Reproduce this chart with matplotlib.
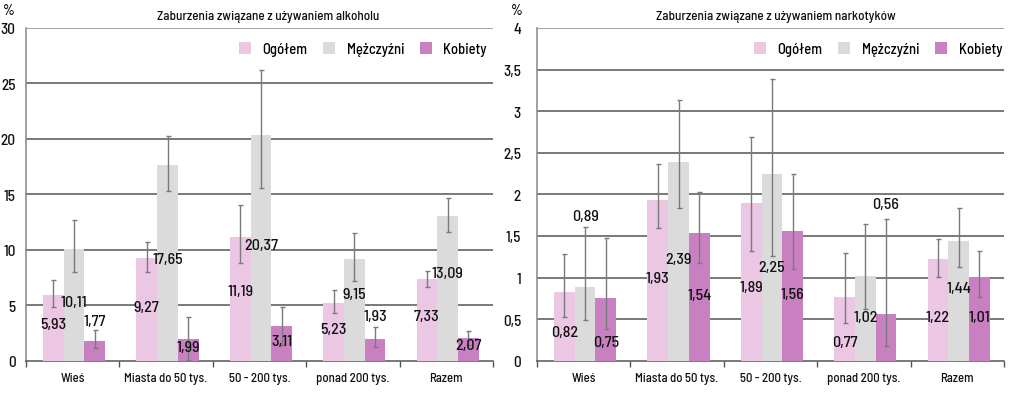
import matplotlib
matplotlib.use("Agg")
import matplotlib.pyplot as plt
import numpy as np
from matplotlib.ticker import FixedLocator

plt.rcParams['font.family'] = ['Barlow Semi Condensed', 'Barlow Condensed', 'Fira Sans Condensed', 'DejaVu Sans']
plt.rcParams['font.weight'] = 500

categories = ["Wieś", "Miasta do 50 tys.", "50 - 200 tys.", "ponad 200 tys.", "Razem"]
series_names = ["Ogółem", "Mężczyźni", "Kobiety"]
colors = ["#EBC7E3", "#DBDBDB", "#C980C0"]

# Alcohol
alc_ogolem = [5.93, 9.27, 11.19, 5.23, 7.33]
alc_mezczyzni = [10.11, 17.65, 20.37, 9.15, 13.09]
alc_kobiety = [1.77, 1.99, 3.11, 1.93, 2.07]
alc_ogolem_lo = [4.81, 7.97, 8.78, 4.27, 6.62]
alc_ogolem_hi = [7.31, 10.74, 14.08, 6.41, 8.12]
alc_mezczyzni_lo = [7.97, 15.34, 15.6, 7.22, 11.64]
alc_mezczyzni_hi = [12.72, 20.24, 26.2, 11.49, 14.65]
alc_kobiety_lo = [1.11, 0.05, 1.41, 1.26, 1.43]
alc_kobiety_hi = [2.80, 3.97, 4.81, 3.07, 2.71]

# Drugs
drg_ogolem = [0.82, 1.93, 1.89, 0.77, 1.22]
drg_mezczyzni = [0.89, 2.39, 2.25, 1.02, 1.44]
drg_kobiety = [0.75, 1.54, 1.56, 0.56, 1.01]
drg_ogolem_lo = [0.52, 1.59, 1.32, 0.45, 1.01]
drg_ogolem_hi = [1.28, 2.36, 2.69, 1.30, 1.46]
drg_mezczyzni_lo = [0.49, 1.83, 1.26, 0.62, 1.13]
drg_mezczyzni_hi = [1.61, 3.14, 3.39, 1.64, 1.83]
drg_kobiety_lo = [0.38, 1.17, 1.10, 0.18, 0.77]
drg_kobiety_hi = [1.47, 2.03, 2.24, 1.70, 1.32]

# label vertical placement (data units), per series
alc_label_y = [[3.3, 4.8, 6.3, 2.85, 4.05],
               [5.3, 9.2, 10.4, 6.0, 7.9],
               [3.6, 1.26, 1.8, 4.05, 1.4]]
drg_label_y = [[0.35, 0.99, 0.89, 0.23, 0.52],
               [1.74, 1.22, 1.13, 0.52, 0.88],
               [0.23, 0.79, 0.80, 1.88, 0.52]]

TXT = '#111111'
fig = plt.figure(figsize=(10.24, 4.10), dpi=100)
ax1 = fig.add_axes([26/1024, 1-361.7/410, 467/1024, 332.7/410])
ax2 = fig.add_axes([537/1024, 1-361.7/410, 467/1024, 332.7/410])


def fmt(v, dec=2):
    return f"{v:.{dec}f}".replace(".", ",")


def draw(ax, vals, los, his, label_y, ymax, ystep, title, title_x, ypad, leg_x):
    x = np.arange(len(categories))
    w = 0.222
    for i, (v, lo, hi, c, name) in enumerate(zip(vals, los, his, colors, series_names)):
        xi = x + (i - 1) * w + 0.015
        v = np.array(v)
        yerr = [v - np.array(lo), np.array(hi) - v]
        ax.bar(xi, v, w, color=c, label=name, zorder=3)
        ax.errorbar(xi, v, yerr=yerr, fmt='none', ecolor='#7a7a7a', elinewidth=1,
                    capsize=1.8, capthick=1, zorder=4)
        for xx, vv, yy in zip(xi, v, label_y[i]):
            ax.text(xx, yy, fmt(vv), ha='center', va='center', fontsize=11.5,
                    color=TXT, zorder=5)
    ax.set_xlim(-0.5, len(categories) - 0.5)
    ax.set_ylim(0, ymax)
    ticks = np.arange(0, ymax + ystep / 2, ystep)
    ax.set_yticks(ticks)
    ax.set_yticklabels([fmt(t, 1) if t % 1 else str(int(t)) for t in ticks])
    for t in ticks[1:]:
        ax.axhline(t, color='#555555' if t < ymax else '#888888', lw=1.1, zorder=1)
    ax.set_xticks(x)
    ax.set_xticklabels(categories)
    ax.xaxis.set_minor_locator(FixedLocator(np.arange(-0.5, len(categories), 1.0)))
    ax.tick_params(axis='x', which='major', length=0, pad=8, labelsize=9.2, colors=TXT)
    ax.tick_params(axis='x', which='minor', length=4, width=1, color='#555555', direction='out')
    ax.tick_params(axis='y', length=0, pad=ypad, labelsize=11, colors=TXT)
    for s in ['top', 'right']:
        ax.spines[s].set_visible(False)
    ax.spines['left'].set_color('#888888')
    ax.spines['left'].set_linewidth(1.1)
    ax.spines['bottom'].set_color('#555555')
    ax.spines['bottom'].set_linewidth(1.1)
    ax.text(title_x, 1 + 12/332.7, title, transform=ax.transAxes, ha='center',
            va='center', fontsize=9.5, color=TXT)
    ax.legend(loc='center right', ncol=3, frameon=False, fontsize=10.5,
              handlelength=0.8, handleheight=0.8, handletextpad=0.8,
              columnspacing=1.1, bbox_to_anchor=(leg_x, (361.7-50)/332.7),
              borderaxespad=0, borderpad=0)


draw(ax1, [alc_ogolem, alc_mezczyzni, alc_kobiety],
     [alc_ogolem_lo, alc_mezczyzni_lo, alc_kobiety_lo],
     [alc_ogolem_hi, alc_mezczyzni_hi, alc_kobiety_hi],
     alc_label_y, 30, 5, "Zaburzenia związane z używaniem alkoholu", (268-26)/467, 7.5,
     (487-26)/467)
draw(ax2, [drg_ogolem, drg_mezczyzni, drg_kobiety],
     [drg_ogolem_lo, drg_mezczyzni_lo, drg_kobiety_lo],
     [drg_ogolem_hi, drg_mezczyzni_hi, drg_kobiety_hi],
     drg_label_y, 4, 0.5, "Zaburzenia związane z używaniem narkotyków", (776-537)/467, 11.5,
     (1002-537)/467)

fig.text(9/1024, 1-11/410, "%", ha='center', va='center', fontsize=10.5, color=TXT)
fig.text(517/1024, 1-11/410, "%", ha='center', va='center', fontsize=10.5, color=TXT)

fig.savefig("out.png", dpi=100, facecolor='white')
